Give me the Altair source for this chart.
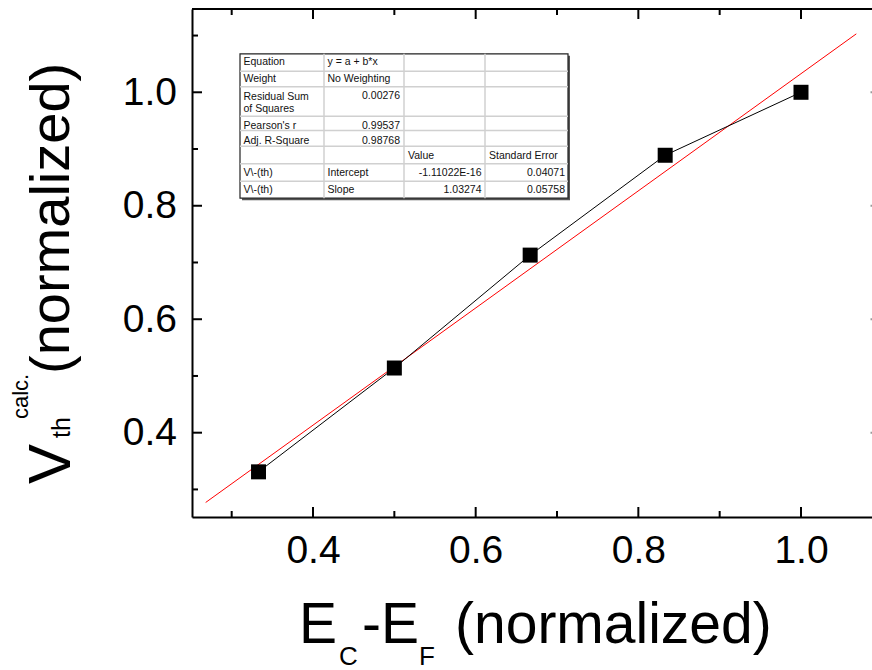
import altair as alt
import pandas as pd

# ---------------- data ----------------
x_vals = [0.333, 0.5, 0.667, 0.833, 1.0]
y_vals = [0.331, 0.514, 0.713, 0.889, 1.0]

fit_x = [0.268, 1.068]
fit_y = [0.277, 1.103]

x_major = [0.4, 0.6, 0.8, 1.0]
x_minor = [0.3, 0.5, 0.7, 0.9]
y_major = [0.4, 0.6, 0.8, 1.0]
y_minor = [0.3, 0.5, 0.7, 0.9, 1.1]

tbl_c0 = ["Equation", "Weight", "Residual Sum\nof Squares", "Pearson's r",
          "Adj. R-Square", "", "V\\-(th)", "V\\-(th)"]
tbl_c1 = ["y = a + b*x", "No Weighting", "0.00276", "0.99537", "0.98768",
          "", "Intercept", "Slope"]
tbl_c2 = ["", "", "", "", "", "Value", "-1.11022E-16", "1.03274"]
tbl_c3 = ["", "", "", "", "", "Standard Error", "0.04071", "0.05758"]

# ---------------- layout ----------------
L, T = 192, 9
W, H = 680, 508
XDOM = [0.2512, 1.0873]
YDOM = [0.2514, 1.1468]
FONT = "Liberation Sans"

col_edges = [240, 324, 404, 485, 568]
row_edges = [53.8, 71.3, 86.7, 116.3, 130.5, 146.2, 163.7, 181.2, 198.2]
row_base = [64.5, 81.5, 100, 129, 143.5, 158.5, 176, 193.3]
col_left = [243.5, 327.5, 408, 489]
col_right = [None, 400, 481.5, 565]


def dx(px):
    return XDOM[0] + (px - L) / W * (XDOM[1] - XDOM[0])


def dy(py):
    return YDOM[1] - (py - T) / H * (YDOM[1] - YDOM[0])


xs = alt.Scale(domain=XDOM, nice=False, zero=False)
ys = alt.Scale(domain=YDOM, nice=False, zero=False)

X_AX = alt.Axis(values=x_major, format=".1f", title=None, grid=False, ticks=False,
                tickSize=0, labelFont=FONT, labelFontSize=39, labelColor="black",
                labelPadding=14, domainColor="black", domainWidth=2, labelFlush=False)
Y_AX = alt.Axis(values=y_major, format=".1f", title=None, grid=False, ticks=False,
                tickSize=0, labelFont=FONT, labelFontSize=39, labelColor="black",
                labelPadding=15.5, domainColor="black", domainWidth=2, labelFlush=False)


def X(field="x"):
    return alt.X(f"{field}:Q", scale=xs, axis=X_AX)


def Y(field="y"):
    return alt.Y(f"{field}:Q", scale=ys, axis=Y_AX)


pts = pd.DataFrame({"x": x_vals, "y": y_vals})
fit = pd.DataFrame({"x": fit_x, "y": fit_y})

fit_line = alt.Chart(fit).mark_line(color="#ff0000", strokeWidth=1).encode(x=X(), y=Y())
data_line = alt.Chart(pts).mark_line(color="black", strokeWidth=1).encode(x=X(), y=Y())
squares = alt.Chart(pts).mark_square(size=225, color="black", opacity=1, filled=True).encode(x=X(), y=Y())

# ---------------- inward ticks ----------------
layers = [fit_line, data_line, squares]


def ticks_x(vals, length):
    df = pd.DataFrame({"x": vals})
    bot = alt.Chart(df).mark_rule(color="black", strokeWidth=2).encode(
        x=X(), y=alt.value(H), y2=alt.value(H - length))
    top = alt.Chart(df).mark_rule(color="black", strokeWidth=2).encode(
        x=X(), y=alt.value(0), y2=alt.value(length))
    return [bot, top]


def ticks_y(vals, length):
    df = pd.DataFrame({"y": vals})
    left = alt.Chart(df).mark_rule(color="black", strokeWidth=2).encode(
        y=Y(), x=alt.value(0), x2=alt.value(length))
    return [left]


layers += ticks_x(x_major, 10) + ticks_x(x_minor, 6)
layers += ticks_y(y_major, 10) + ticks_y(y_minor, 6)
# right-axis tick stubs visible at the cropped edge
layers.append(alt.Chart(pd.DataFrame({"y": y_major})).mark_rule(color="#999999", strokeWidth=2).encode(
    y=Y(), x=alt.value(W - 1.5), x2=alt.value(W)))
# top frame line
layers.append(alt.Chart(alt.Data(values=[{}])).mark_rule(color="black", strokeWidth=2).encode(
    x=alt.value(0), x2=alt.value(W), y=alt.value(0)))

# ---------------- fit-result table ----------------
tbl_box = pd.DataFrame({"x": [dx(col_edges[0])], "x2": [dx(col_edges[-1])],
                        "y": [dy(row_edges[0])], "y2": [dy(row_edges[-1])]})
shadow = pd.DataFrame({"x": [dx(col_edges[0] + 2)], "x2": [dx(col_edges[-1] + 2)],
                       "y": [dy(row_edges[0] + 2)], "y2": [dy(row_edges[-1] + 2)]})
layers.append(alt.Chart(shadow).mark_rect(color="#555555").encode(
    x=X(), x2="x2:Q", y=Y(), y2="y2:Q"))
layers.append(alt.Chart(tbl_box).mark_rect(fill="white", stroke="#222222", strokeWidth=1.2).encode(
    x=X(), x2="x2:Q", y=Y(), y2="y2:Q"))

hl = pd.DataFrame({"x": [dx(col_edges[0])] * (len(row_edges) - 2),
                   "x2": [dx(col_edges[-1])] * (len(row_edges) - 2),
                   "y": [dy(r) for r in row_edges[1:-1]]})
layers.append(alt.Chart(hl).mark_rule(color="#d0d0d0", strokeWidth=1.5).encode(
    x=X(), x2="x2:Q", y=Y()))
vl = pd.DataFrame({"x": [dx(c) for c in col_edges[1:-1]],
                   "y": [dy(row_edges[0])] * (len(col_edges) - 2),
                   "y2": [dy(row_edges[-1])] * (len(col_edges) - 2)})
layers.append(alt.Chart(vl).mark_rule(color="#d0d0d0", strokeWidth=1.5).encode(
    x=X(), y=Y(), y2="y2:Q"))


def is_num(s):
    try:
        float(s)
        return True
    except ValueError:
        return False


left_rows, right_rows = [], []
for ci, col in enumerate([tbl_c0, tbl_c1, tbl_c2, tbl_c3]):
    for ri, txt in enumerate(col):
        if not txt:
            continue
        base_y = row_base[ri]
        if is_num(txt):
            right_rows.append({"x": dx(col_right[ci]), "y": dy(base_y - 1.5 if ri == 2 else base_y), "t": txt})
        else:
            left_rows.append({"x": dx(col_left[ci]), "y": dy(base_y), "t": txt})

for rows, al in [(left_rows, "left"), (right_rows, "right")]:
    layers.append(alt.Chart(pd.DataFrame(rows)).mark_text(
        align=al, baseline="alphabetic", font=FONT, fontSize=10.5, color="#111111",
        lineBreak="\n", lineHeight=11.5).encode(x=X(), y=Y(), text="t:N"))

# ---------------- axis titles with sub/superscripts ----------------
# (text, font size, page x, page y, angle)
title_parts = [
    ("E", 57, 299, 643, 0),
    ("C", 26, 339, 665, 0),
    ("-E", 57, 362, 643, 0),
    ("F", 26, 419, 665, 0),
    ("(normalized)", 57, 455, 643, 0),
    ("V", 60, 70, 484, 270),
    ("th", 25, 70, 438, 270),
    ("calc.", 22, 28, 419, 270),
    ("(normalized)", 56, 69, 374, 270),
]
for txt, fs, px, py, ang in title_parts:
    layers.append(alt.Chart(alt.Data(values=[{}])).mark_text(
        text=txt, align="left", baseline="alphabetic", font=FONT, fontSize=fs,
        color="black", angle=ang).encode(x=alt.value(px - L), y=alt.value(py - T)))

chart = alt.layer(*layers).properties(
    width=W, height=H,
    padding={"left": L, "top": T, "right": 0, "bottom": 670 - T - H},
    autosize=alt.AutoSizeParams(type="none"),
).configure_view(stroke=None).configure(background="white")

chart.save("out.html", embed_options={"renderer": "svg", "actions": False})
